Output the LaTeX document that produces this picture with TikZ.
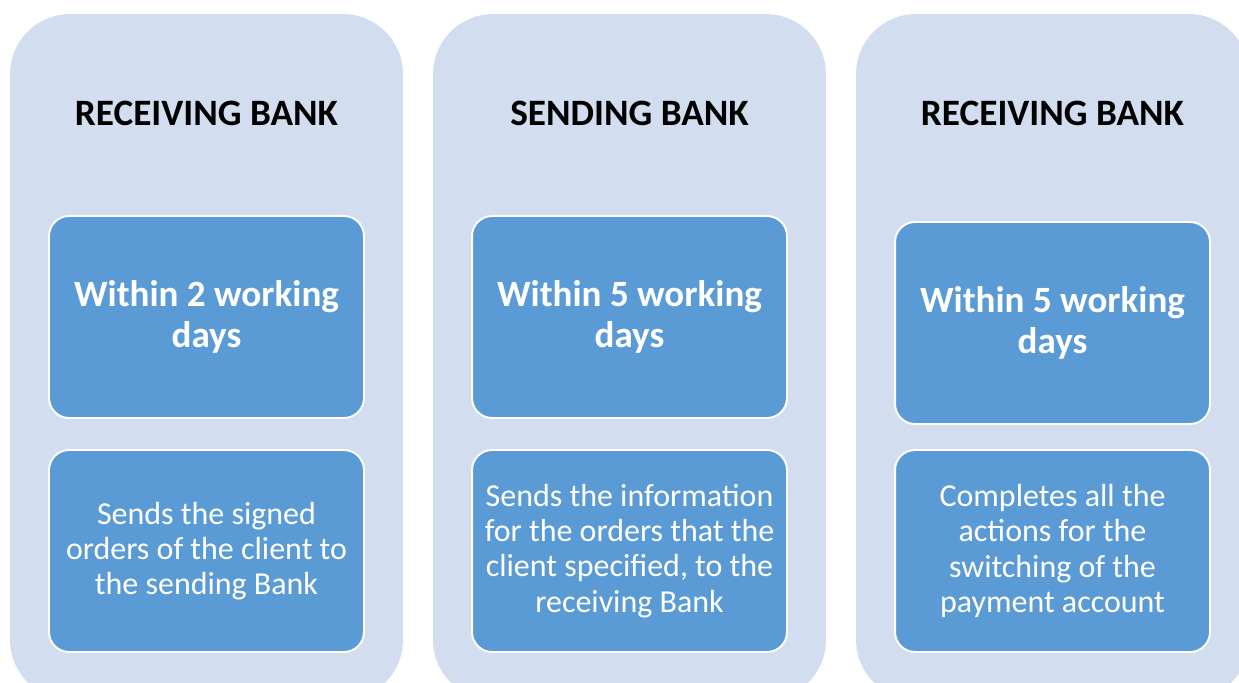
\documentclass[tikz,border=0pt]{standalone}
\usepackage{fontspec}
\setmainfont{Carlito}
\usetikzlibrary{positioning}
\definecolor{panelblue}{HTML}{D2DEEF}
\definecolor{boxblue}{HTML}{5B9BD5}

\begin{document}
\begin{tikzpicture}[x=0.02cm, y=-0.02cm,
    panel/.style={fill=panelblue, draw=none, rounded corners=1.2cm, minimum width=7.86cm, minimum height=13.72cm},
    head/.style={font=\bfseries\fontsize{21.2}{26}\selectfont, text=black},
    stepbox/.style={fill=boxblue, draw=white, line width=1.1pt, rounded corners=0.4cm, minimum width=6.3cm, minimum height=4.04cm, text=white, align=center},
    when/.style={stepbox, font=\bfseries\fontsize{21.1}{23.5}\selectfont},
    what/.style={stepbox, font=\fontsize{18.2}{20}\selectfont}]
    \useasboundingbox (0,0) rectangle (1239,682);
    \clip (0,0) rectangle (1239,682);

    % three columns: panel, title, time box, action box
    \foreach \n/\x/\dy/\name/\days/\task in {
        1/206.5/0/{RECEIVING BANK}/{Within 2 working\\days}/{Sends the signed\\orders of the client to\\the sending Bank},
        2/629.5/0/{SENDING BANK}/{Within 5 working\\days}/{Sends the information\\for the orders that the\\client specified, to the\\receiving Bank},
        3/1052.5/6/{RECEIVING BANK}/{Within 5 working\\days}/{Completes all the\\actions for the\\switching of the\\payment account}}
    {
        \node[panel] (P\n) at (\x, 357) {};
        \node[head] (H\n) at (\x, 113) {\name};
        \node[when] (W\n) at (\x, 317 + \dy) {\days};
        \node[what] (A\n) at (\x, 551) {\task};
    }
\end{tikzpicture}
\end{document}
